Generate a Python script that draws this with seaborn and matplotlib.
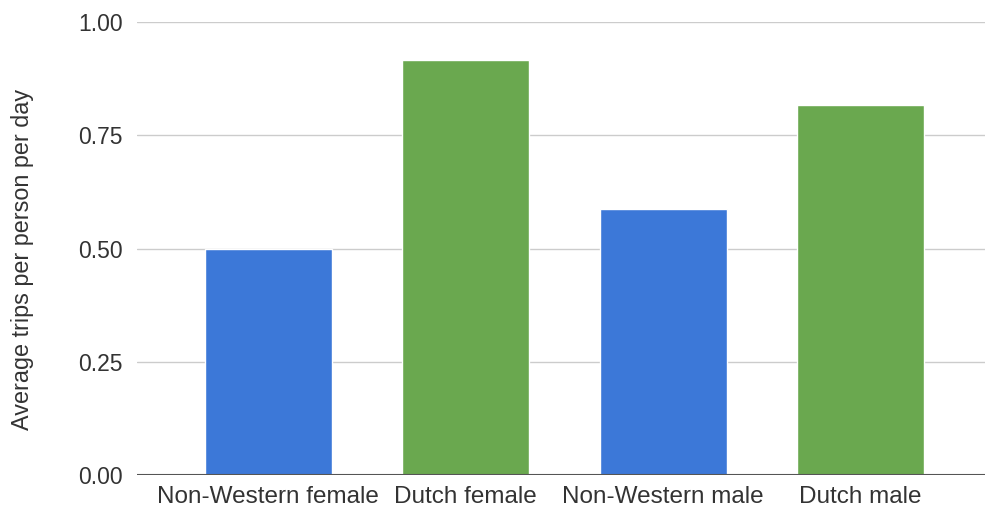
import matplotlib
matplotlib.use("Agg")
import matplotlib.pyplot as plt
import seaborn as sns
import pandas as pd

categories = ["Non-Western female", "Dutch female", "Non-Western male", "Dutch male"]
trips = [0.50, 0.916, 0.587, 0.817]
colors = ["#3c78d8", "#6aa84f", "#3c78d8", "#6aa84f"]
yticks = [0.0, 0.25, 0.5, 0.75, 1.0]

df = pd.DataFrame({"group": categories, "trips": trips})

sns.set_style("white")
plt.rcParams["font.family"] = ["Liberation Sans", "DejaVu Sans"]

fig = plt.figure(figsize=(9.86, 5.09), dpi=100)
ax = fig.add_axes([137 / 986, 1 - 475 / 509, 848 / 986, 453 / 509])

sns.barplot(data=df, x="group", y="trips", hue="group", palette=colors,
            saturation=1, width=0.645, legend=False, ax=ax, zorder=3)

ax.set_ylim(0, 1)
ax.set_xlim(-0.665, 3.63)
ax.set_yticks(yticks)
ax.set_yticklabels([f"{t:.2f}" for t in yticks])
ax.yaxis.grid(True, color="#cccccc", linewidth=1, zorder=0)
ax.axhline(0, color="#555555", linewidth=1.5, zorder=4)
for s in ax.spines.values():
    s.set_visible(False)
ax.tick_params(axis="both", length=0, colors="#333333")
ax.tick_params(axis="x", pad=8, labelsize=17.5)
ax.tick_params(axis="y", pad=10, labelsize=16.5)
ax.set_xlabel("")
ax.set_ylabel("Average trips per person per day", fontsize=16.8, color="#333333")
ax.yaxis.set_label_coords(-0.121, 0.475)

fig.savefig("out.png", dpi=100)
